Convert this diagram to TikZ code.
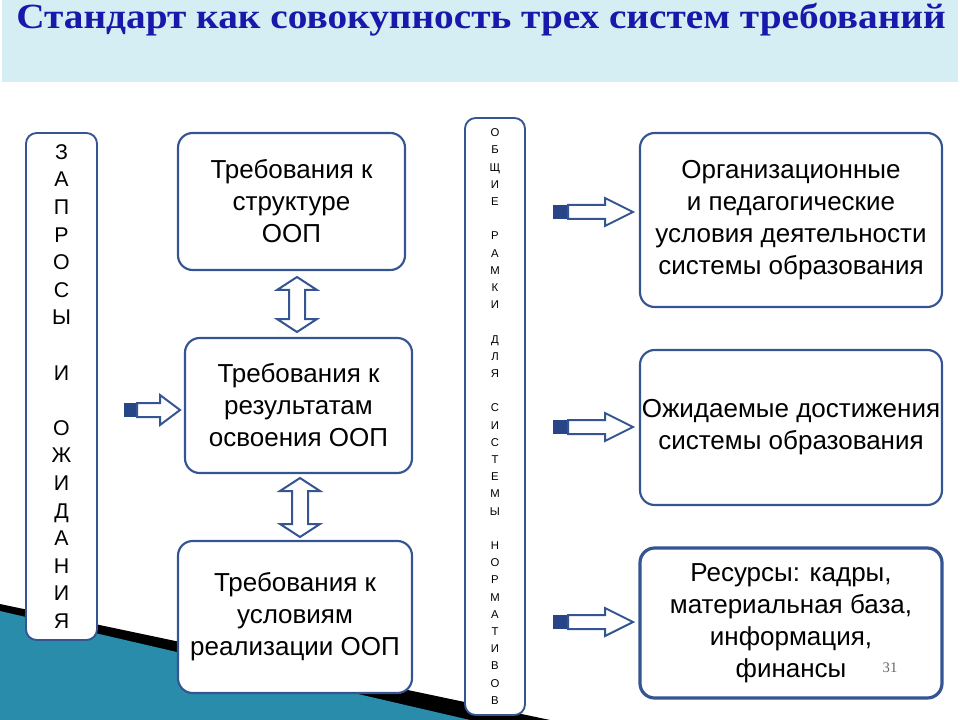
\documentclass[tikz,border=0pt]{standalone}
\usepackage{fontspec}
\setmainfont{Liberation Sans}
\newfontfamily\titlefont{Liberation Serif}
\usepackage{graphicx}
\definecolor{bord}{RGB}{52,84,146}
\definecolor{dark}{RGB}{40,70,135}
\definecolor{band}{RGB}{213,238,243}
\definecolor{ttl}{RGB}{24,24,170}
\definecolor{teal}{RGB}{40,140,170}
\tikzset{
  box/.style={draw=bord, line width=1.6pt, rounded corners=11pt, fill=white, align=center, inner sep=0pt,
     font=\fontsize{19.5}{24}\selectfont},
  vbox/.style={draw=bord, line width=1.4pt, rounded corners=8pt, fill=white, align=center, inner sep=0pt},
  blockarrow/.style={draw=bord, fill=white, line width=1.5pt, line join=miter},
}
\begin{document}
\begin{tikzpicture}[x=0.75pt,y=-0.75pt]
\useasboundingbox (0,0) rectangle (960,720);
% background
\fill[band] (2,0) rectangle (958,82);
\fill[black] (0,604) -- (550,720) -- (0,720) -- cycle;
\fill[teal] (0,611) -- (470,720) -- (0,720) -- cycle;
\node[anchor=base west, inner sep=0, text=ttl] (title) at (16,29)
  {\resizebox{697pt}{19pt}{\titlefont\bfseries Стандарт как совокупность трех систем требований}};
% left vertical box
\node[vbox, minimum width=53.25pt, minimum height=380.25pt,
  font=\fontsize{16}{20.7}\selectfont] (zapr) at (61.5,386.5)
  {З\\А\\П\\Р\\О\\С\\Ы\\~\\И\\~\\О\\Ж\\И\\Д\\А\\Н\\И\\Я};
% middle boxes
\node[box, minimum width=170.25pt, minimum height=102.75pt] (b1) at (291.5,201.5) {Требования к\\структуре\\ООП};
\node[box, minimum width=170.25pt, minimum height=101.25pt] (b2) at (298.5,405.5) {Требования к\\результатам\\освоения ООП};
\node[box, minimum width=175.5pt, minimum height=114pt] (b3) at (295,617) {Требования к\\условиям\\реализации ООП};
% narrow middle
\node[vbox, minimum width=45pt, minimum height=447.75pt,
  font=\fontsize{8.5}{12.9}\selectfont] (obsh) at (495,416.5)
  {О\\Б\\Щ\\И\\Е\\~\\Р\\А\\М\\К\\И\\~\\Д\\Л\\Я\\~\\С\\И\\С\\Т\\Е\\М\\Ы\\~\\Н\\О\\Р\\М\\А\\Т\\И\\В\\О\\В};
% right boxes
\node[box, minimum width=226.5pt, minimum height=130.5pt] (r1) at (791,220) {Организационные\\и педагогические\\условия деятельности\\системы образования};
\node[box, minimum width=226.5pt, minimum height=116.25pt] (r2) at (791,427.5) {Ожидаемые достижения\\системы образования};
\node[box, line width=2.4pt, minimum width=226.5pt, minimum height=112.5pt] (r3) at (791,623) {Ресурсы: кадры,\\материальная база,\\информация,\\финансы};
% block arrows
\coordinate (a0) at (124,410);
\begin{scope}[shift={(a0)}]
  \fill[dark] (0,-7) rectangle (13,7);
  \draw[blockarrow] (13,-7)--(36,-7)--(36,-15)--(56,0)--(36,15)--(36,7)--(13,7)--cycle;
\end{scope}
\foreach \yy [count=\i] in {212,427,622}{
  \coordinate (ar\i) at (553,\yy);
  \begin{scope}[shift={(ar\i)}]
    \fill[dark] (0,-7) rectangle (15,7);
    \draw[blockarrow] (15,-7)--(52,-7)--(52,-14)--(80,0)--(52,14)--(52,7)--(15,7)--cycle;
  \end{scope}
}
% vertical double arrows
\foreach \xx/\ya/\yb [count=\i] in {297/277/332, 300/478/537}{
  \draw[blockarrow] (\xx,\ya) -- (\xx+20,\ya+13) -- (\xx+8,\ya+13) -- (\xx+8,\yb-13) -- (\xx+20,\yb-13)
    -- (\xx,\yb) -- (\xx-20,\yb-13) -- (\xx-8,\yb-13) -- (\xx-8,\ya+13) -- (\xx-20,\ya+13) -- cycle;
}
\node[font=\fontsize{11}{12}\selectfont\titlefont, text=black!60] (pg) at (890,668) {31};
\end{tikzpicture}
\end{document}
